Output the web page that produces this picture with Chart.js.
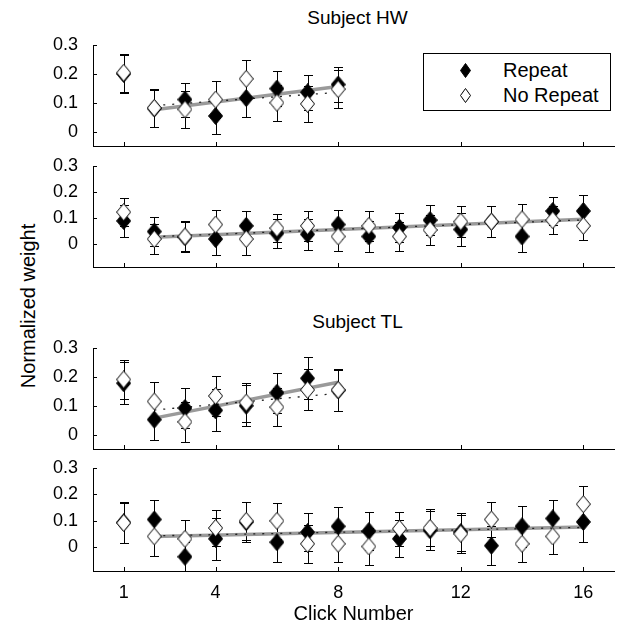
<!DOCTYPE html>
<html>
<head>
<meta charset="utf-8">
<title>Normalized weight by click number</title>
<script src="https://cdn.jsdelivr.net/npm/chart.js@4.4.1/dist/chart.umd.min.js"></script>
<style>
  body { margin: 0; background: #fff; }
  #fig { position: relative; width: 623px; height: 626px; overflow: hidden; font-family: "Liberation Sans", Arial, sans-serif; color: #000; }
  #fig canvas { position: absolute; left: 0; }
  .title { position: absolute; left: 93px; width: 529px; text-align: center; font-size: 19px; line-height: 20px; }
  #ylabel { position: absolute; left: 28px; top: 306px; font-size: 20px; line-height: 22px; white-space: nowrap; transform: translate(-50%, -50%) rotate(-90deg); }
  #legend { position: absolute; left: 423px; top: 53px; width: 186px; height: 56px; border: 1px solid #000; background: #fff; font-size: 20px; }
  #legend .row { position: absolute; left: 0; height: 24px; line-height: 24px; }
  #legend svg { position: absolute; left: 36px; top: 5px; }
  #legend span { position: absolute; left: 79px; white-space: nowrap; }
</style>
</head>
<body>
<div id="fig">
  <div class="title" style="top: 8px;">Subject HW</div>
  <div class="title" style="top: 312px;">Subject TL</div>
  <div id="ylabel">Normalized weight</div>

  <canvas id="hwShort" width="623" height="120" style="top: 35px;"></canvas>
  <canvas id="hwLong" width="623" height="120" style="top: 156px;"></canvas>
  <canvas id="tlShort" width="623" height="120" style="top: 338px;"></canvas>
  <canvas id="tlLong" width="623" height="168" style="top: 458px;"></canvas>

  <div id="legend">
    <div class="row" style="top: 4px;">
      <svg width="11" height="15"><polygon points="5.5,0.5 10.5,7.5 5.5,14.5 0.5,7.5" fill="#000" stroke="#000"/></svg>
      <span>Repeat</span>
    </div>
    <div class="row" style="top: 29px;">
      <svg width="11" height="15"><polygon points="5.5,0.5 10.5,7.5 5.5,14.5 0.5,7.5" fill="#fff" stroke="#000"/></svg>
      <span>No Repeat</span>
    </div>
  </div>
</div>

<script>
// axes
const xTicks = [1, 4, 8, 12, 16];
const yTicks = [0, 0.1, 0.2, 0.3];
const clicksShort = [1, 2, 3, 4, 5, 6, 7, 8];
const clicksLong = [1, 2, 3, 4, 5, 6, 7, 8, 9, 10, 11, 12, 13, 14, 15, 16];
const fitXShort = [2, 8];
const fitXLong = [2, 16];

// Subject HW, clicks 1-8
const hwShortRepeat = [0.200, 0.080, 0.111, 0.054, 0.116, 0.149, 0.136, 0.163];
const hwShortRepeatErr = [0.065, 0.065, 0.059, 0.063, 0.065, 0.060, 0.060, 0.062];
const hwShortNoRepeat = [0.204, 0.082, 0.077, 0.111, 0.183, 0.100, 0.096, 0.147];
const hwShortNoRepeatErr = [0.066, 0.065, 0.063, 0.064, 0.066, 0.063, 0.063, 0.065];
const hwShortRepeatFit = [0.076, 0.156];
const hwShortNoRepeatFit = [0.090, 0.136];

// Subject HW, clicks 1-16
const hwLongRepeat = [0.088, 0.047, 0.025, 0.018, 0.069, 0.040, 0.036, 0.074, 0.028, 0.062, 0.091, 0.055, 0.085, 0.028, 0.126, 0.126];
const hwLongRepeatErr = [0.063, 0.056, 0.058, 0.060, 0.057, 0.055, 0.060, 0.056, 0.060, 0.055, 0.058, 0.065, 0.060, 0.061, 0.055, 0.061];
const hwLongNoRepeat = [0.122, 0.018, 0.028, 0.074, 0.018, 0.060, 0.069, 0.028, 0.069, 0.028, 0.053, 0.085, 0.085, 0.094, 0.091, 0.069];
const hwLongNoRepeatErr = [0.055, 0.058, 0.058, 0.056, 0.060, 0.055, 0.058, 0.057, 0.057, 0.056, 0.057, 0.060, 0.060, 0.061, 0.055, 0.054];
const hwLongRepeatFit = [0.025, 0.094];
const hwLongNoRepeatFit = [0.027, 0.092];

// Subject TL, clicks 1-8
const tlShortRepeat = [0.178, 0.052, 0.092, 0.084, 0.100, 0.145, 0.195, 0.153];
const tlShortRepeatErr = [0.072, 0.071, 0.068, 0.073, 0.071, 0.070, 0.073, 0.072];
const tlShortNoRepeat = [0.191, 0.115, 0.044, 0.134, 0.111, 0.095, 0.155, 0.155];
const tlShortNoRepeatErr = [0.069, 0.068, 0.070, 0.070, 0.067, 0.066, 0.071, 0.072];
const tlShortRepeatFit = [0.057, 0.181];
const tlShortNoRepeatFit = [0.085, 0.143];

// Subject TL, clicks 1-16
const tlLongRepeat = [0.094, 0.105, -0.036, 0.032, 0.095, 0.019, 0.057, 0.079, 0.061, 0.032, 0.064, 0.057, 0.006, 0.079, 0.109, 0.096];
const tlLongRepeatErr = [0.078, 0.074, 0.055, 0.080, 0.075, 0.074, 0.073, 0.072, 0.073, 0.070, 0.075, 0.072, 0.074, 0.078, 0.070, 0.077];
const tlLongNoRepeat = [0.092, 0.041, 0.032, 0.073, 0.100, 0.100, 0.013, 0.013, 0.003, 0.070, 0.073, 0.051, 0.105, 0.013, 0.041, 0.163];
const tlLongNoRepeatErr = [0.075, 0.073, 0.070, 0.067, 0.072, 0.069, 0.072, 0.070, 0.069, 0.065, 0.070, 0.072, 0.065, 0.070, 0.067, 0.067];
const tlLongRepeatFit = [0.041, 0.077];
const tlLongNoRepeatFit = [0.043, 0.075];

const fontFamily = '"Liberation Sans", Arial, sans-serif';

function makeDiamond(fill) {
    const c = document.createElement("canvas");
    c.width = 15;
    c.height = 18;
    const g = c.getContext("2d");
    g.beginPath();
    g.moveTo(7.5, 0.5);
    g.lineTo(14.5, 9);
    g.lineTo(7.5, 17.5);
    g.lineTo(0.5, 9);
    g.closePath();
    g.fillStyle = fill;
    g.fill();
    g.strokeStyle = "#000";
    g.lineWidth = 1;
    g.stroke();
    return c;
}

const filledDiamond = makeDiamond("#000");
const openDiamond = makeDiamond("#fff");

function points(xs, ys) {
    return xs.map(function (v, i) {
        return { x: v, y: ys[i] };
    });
}

// error bars under the markers, inward ticks on top of everything
const errorBars = {
    id: "errorBars",
    beforeDatasetsDraw(chart) {
        const ctx = chart.ctx;
        const x = chart.scales.x;
        const y = chart.scales.y;
        const area = chart.chartArea;
        ctx.save();
        ctx.beginPath();
        ctx.rect(area.left, area.top, area.right - area.left, area.bottom - area.top);
        ctx.clip();
        ctx.strokeStyle = "#000";
        ctx.lineWidth = 1;
        chart.data.datasets.forEach(function (ds) {
            if (!ds.errors) return;
            ds.data.forEach(function (p, i) {
                const px = Math.round(x.getPixelForValue(p.x)) + 0.5;
                const hi = Math.round(y.getPixelForValue(p.y + ds.errors[i])) + 0.5;
                const lo = Math.round(y.getPixelForValue(p.y - ds.errors[i])) + 0.5;
                ctx.beginPath();
                ctx.moveTo(px, hi);
                ctx.lineTo(px, lo);
                ctx.moveTo(px - 4.5, hi);
                ctx.lineTo(px + 4.5, hi);
                ctx.moveTo(px - 4.5, lo);
                ctx.lineTo(px + 4.5, lo);
                ctx.stroke();
            });
        });
        ctx.restore();
    },
    afterDraw(chart) {
        const ctx = chart.ctx;
        const area = chart.chartArea;
        const x = chart.scales.x;
        const y = chart.scales.y;
        ctx.save();
        ctx.strokeStyle = "#000";
        ctx.lineWidth = 1;
        ctx.beginPath();
        y.ticks.forEach(function (t) {
            const py = Math.round(y.getPixelForValue(t.value)) + 0.5;
            ctx.moveTo(area.left, py);
            ctx.lineTo(area.left + 4, py);
        });
        x.ticks.forEach(function (t) {
            const px = Math.round(x.getPixelForValue(t.value)) + 0.5;
            ctx.moveTo(px, area.bottom);
            ctx.lineTo(px, area.bottom - 4);
        });
        ctx.stroke();
        ctx.restore();
    }
};

function makePanel(canvasId, p) {
    return new Chart(document.getElementById(canvasId), {
        type: "scatter",
        data: {
            datasets: [
                {
                    label: "No Repeat",
                    data: points(p.clicks, p.noRepeat),
                    errors: p.noRepeatErr,
                    pointStyle: openDiamond,
                    pointRadius: 8,
                    order: 0
                },
                {
                    label: "Repeat",
                    data: points(p.clicks, p.repeat),
                    errors: p.repeatErr,
                    pointStyle: filledDiamond,
                    pointRadius: 8,
                    order: 1
                },
                {
                    label: "No Repeat fit",
                    data: points(p.fitX, p.noRepeatFit),
                    showLine: true,
                    borderColor: "#222",
                    borderWidth: 1.3,
                    borderDash: [2, 7],
                    pointRadius: 0,
                    order: 2
                },
                {
                    label: "Repeat fit",
                    data: points(p.fitX, p.repeatFit),
                    showLine: true,
                    borderColor: "#9a9a9a",
                    borderWidth: 3.5,
                    pointRadius: 0,
                    order: 3
                }
            ]
        },
        options: {
            responsive: false,
            animation: false,
            events: [],
            layout: { padding: { top: 10, right: 1, left: 0, bottom: 0 } },
            plugins: {
                legend: { display: false },
                tooltip: { enabled: false }
            },
            scales: {
                x: {
                    type: "linear",
                    min: 0,
                    max: 17,
                    grid: { display: false },
                    border: { color: "#000", width: 1 },
                    ticks: {
                        display: p.showX,
                        padding: 3,
                        color: "#000",
                        font: { size: 18, family: fontFamily },
                        callback: function (v) { return String(v); }
                    },
                    title: {
                        display: p.showX,
                        text: "Click Number",
                        color: "#000",
                        padding: { top: 0, bottom: 0 },
                        font: { size: 20, family: fontFamily }
                    },
                    afterBuildTicks: function (s) {
                        s.ticks = xTicks.map(function (v) { return { value: v }; });
                    },
                    afterFit: function (s) {
                        s.height = p.xAxisHeight;
                        s.paddingLeft = 0;
                        s.paddingRight = 0;
                    }
                },
                y: {
                    type: "linear",
                    min: p.yMin,
                    max: 0.3,
                    grid: { display: false },
                    border: { color: "#000", width: 1 },
                    ticks: {
                        padding: 7,
                        color: "#000",
                        font: { size: 18, family: fontFamily },
                        callback: function (v) { return String(v); }
                    },
                    afterBuildTicks: function (s) {
                        s.ticks = yTicks.map(function (v) { return { value: v }; });
                    },
                    afterFit: function (s) {
                        s.width = 93;
                        s.paddingTop = 0;
                        s.paddingBottom = 0;
                    }
                }
            }
        },
        plugins: [errorBars]
    });
}

makePanel("hwShort", {
    clicks: clicksShort, repeat: hwShortRepeat, repeatErr: hwShortRepeatErr,
    noRepeat: hwShortNoRepeat, noRepeatErr: hwShortNoRepeatErr,
    fitX: fitXShort, repeatFit: hwShortRepeatFit, noRepeatFit: hwShortNoRepeatFit,
    yMin: -0.05, xAxisHeight: 8, showX: false
});

makePanel("hwLong", {
    clicks: clicksLong, repeat: hwLongRepeat, repeatErr: hwLongRepeatErr,
    noRepeat: hwLongNoRepeat, noRepeatErr: hwLongNoRepeatErr,
    fitX: fitXLong, repeatFit: hwLongRepeatFit, noRepeatFit: hwLongNoRepeatFit,
    yMin: -0.09, xAxisHeight: 8, showX: false
});

makePanel("tlShort", {
    clicks: clicksShort, repeat: tlShortRepeat, repeatErr: tlShortRepeatErr,
    noRepeat: tlShortNoRepeat, noRepeatErr: tlShortNoRepeatErr,
    fitX: fitXShort, repeatFit: tlShortRepeatFit, noRepeatFit: tlShortNoRepeatFit,
    yMin: -0.05, xAxisHeight: 8, showX: false
});

makePanel("tlLong", {
    clicks: clicksLong, repeat: tlLongRepeat, repeatErr: tlLongRepeatErr,
    noRepeat: tlLongNoRepeat, noRepeatErr: tlLongNoRepeatErr,
    fitX: fitXLong, repeatFit: tlLongRepeatFit, noRepeatFit: tlLongNoRepeatFit,
    yMin: -0.09, xAxisHeight: 55, showX: true
});
</script>
</body>
</html>
